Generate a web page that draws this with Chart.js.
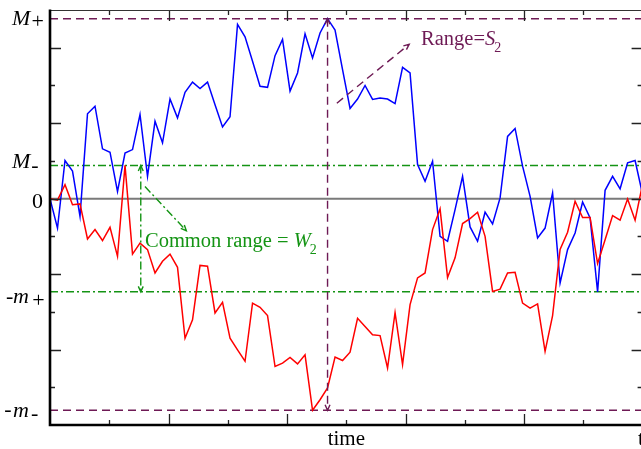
<!DOCTYPE html>
<html>
<head>
<meta charset="utf-8">
<script src="https://cdn.jsdelivr.net/npm/chart.js@4.4.1/dist/chart.umd.min.js"></script>
<style>
html, body { margin: 0; padding: 0; background: #fff; overflow: hidden; }
#wrap { position: relative; width: 650px; height: 449px; }
</style>
</head>
<body>
<div id="wrap"><canvas id="chart"></canvas></div>
<script>
// two random walks, one value per time step
const blueWalk = [
     0.00, -0.78,  1.01,  0.73, -0.47,  2.25,  2.45,  1.32,  1.23,  0.19,
     1.21,  1.30,  2.23,  0.59,  2.05,  1.48,  2.64,  2.14,  2.82,  3.09,
     2.92,  3.09,  2.49,  1.90,  2.17,  4.62,  4.29,  3.64,  2.98,  2.95,
     3.79,  4.22,  2.85,  3.33,  4.37,  3.73,  4.39,  4.77,  4.47,  3.42,
     2.39,  2.64,  3.00,  2.63,  2.67,  2.64,  2.52,  3.48,  3.33,  0.90,
     0.46,  0.99, -1.00, -1.13, -0.29,  0.59, -0.75, -1.13, -0.36, -0.67,
     0.02,  1.65,  1.86,  0.86,  0.06, -1.04, -0.78,  0.15, -2.24, -1.35,
    -0.91, -0.09, -0.51, -2.47,  0.22,  0.59,  0.26,  0.95,  1.01,  0.11
];
const redWalk = [
     0.00, -0.04,  0.37, -0.16, -0.14, -1.07, -0.82, -1.11, -0.76, -1.53,
     0.88, -1.47, -1.18, -1.35, -1.97, -1.66, -1.47, -1.82, -3.70, -3.21,
    -1.77, -1.79, -3.03, -2.75, -3.70, -4.01, -4.31, -2.77, -2.88, -3.10,
    -4.45, -4.36, -4.21, -4.38, -4.14, -5.61, -5.33, -5.02, -4.20, -4.29,
    -4.07, -3.17, -3.39, -3.61, -3.63, -4.49, -3.02, -4.40, -2.81, -2.10,
    -1.97, -0.82, -0.27, -2.09, -1.57, -0.66, -0.53, -0.36, -1.00, -2.46,
    -2.40, -1.97, -1.95, -2.77, -2.90, -2.79, -4.05, -3.10, -1.35, -0.89,
    -0.07, -0.50, -0.50, -1.72, -1.09, -0.45, -0.57, -0.01, -0.57,  0.39
];

// levels: M+, M-, 0, -m+, -m-
const levelValues = [4.77, 0.88, 0, -2.47, -5.61];
const yRange      = [-6, 5];
const xTickCount  = 10;

const PURPLE = '#6e1a55';
const GREEN  = '#149414';
const SERIF  = '"Liberation Serif", "DejaVu Serif", serif';

const xMax   = blueWalk.length - 1;
const peakAt = blueWalk.indexOf(Math.max(...blueWalk));
const [M_PLUS, M_MINUS, ZERO, NEG_M_PLUS, NEG_M_MINUS] = levelValues;

const toPoints = arr => arr.map((v, i) => ({ x: i, y: v }));
const flat     = v => [{ x: 0, y: v }, { x: xMax, y: v }];

function levelLine(v, color, dash, width) {
    return {
        data:        flat(v),
        borderColor: color,
        borderDash:  dash,
        borderWidth: width,
        order:       5,
    };
}

function text(ctx, s, x, y, size, italic, color, align) {
    ctx.font         = (italic ? 'italic ' : '') + size + 'px ' + SERIF;
    ctx.fillStyle    = color;
    ctx.textAlign    = align || 'left';
    ctx.textBaseline = 'alphabetic';
    ctx.fillText(s, x, y);
    return ctx.measureText(s).width;
}

function arrow(ctx, x0, y0, x1, y1, color, dash, both) {
    ctx.save();
    ctx.strokeStyle = color;
    ctx.lineWidth   = 1.4;
    ctx.setLineDash(dash);
    ctx.beginPath();
    ctx.moveTo(x0, y0);
    ctx.lineTo(x1, y1);
    ctx.stroke();
    ctx.setLineDash([]);
    const head = (tx, ty, fx, fy) => {
        const a = Math.atan2(ty - fy, tx - fx);
        const L = 6, w = 0.42;
        ctx.beginPath();
        ctx.moveTo(tx - L * Math.cos(a - w), ty - L * Math.sin(a - w));
        ctx.lineTo(tx, ty);
        ctx.lineTo(tx - L * Math.cos(a + w), ty - L * Math.sin(a + w));
        ctx.stroke();
    };
    head(x1, y1, x0, y0);
    if (both) head(x0, y0, x1, y1);
    ctx.restore();
}

const frame = {
    id: 'frame',
    afterDatasetsDraw(chart) {
        const { ctx, chartArea: a, scales: { x: xs, y: ys } } = chart;
        const X = v => xs.getPixelForValue(v);
        const Y = v => ys.getPixelForValue(v);

        // annotation arrows
        arrow(ctx, X(peakAt), Y(M_PLUS), X(peakAt), Y(NEG_M_MINUS), PURPLE, [8, 5], true);
        arrow(ctx, X(38.24), Y(2.53), X(47.88), Y(4.09), PURPLE, [8, 5], false);
        arrow(ctx, X(12.1), Y(M_MINUS), X(12.1), Y(NEG_M_PLUS), GREEN, [8, 3, 2, 3], true);
        arrow(ctx, X(12.66), Y(0.32), X(18.17), Y(-0.85), GREEN, [8, 3, 2, 3], false);

        // ticks, pointing inwards
        ctx.save();
        ctx.strokeStyle = '#222';
        ctx.lineWidth   = 1.3;
        ctx.beginPath();
        for (let k = 1; k < xTickCount; k++) {
            const px  = Math.round(X(k * xMax / xTickCount)) + 0.5;
            const len = k % 2 === 0 ? 11 : 5;
            ctx.moveTo(px, a.top);    ctx.lineTo(px, a.top + len);
            ctx.moveTo(px, a.bottom); ctx.lineTo(px, a.bottom - len);
        }
        for (let v = yRange[0] + 1; v < yRange[1]; v++) {
            const py  = Math.round(Y(v)) + 0.5;
            const len = v % 2 === 0 ? 11 : 5;
            ctx.moveTo(a.left, py);  ctx.lineTo(a.left + len, py);
            ctx.moveTo(a.right, py); ctx.lineTo(a.right - len, py);
        }
        ctx.stroke();

        // frame
        ctx.strokeStyle = '#333';
        ctx.lineWidth   = 1.2;
        ctx.beginPath();
        ctx.moveTo(a.left, a.top + 0.5); ctx.lineTo(a.right, a.top + 0.5);
        ctx.moveTo(a.right, a.top);      ctx.lineTo(a.right, a.bottom);
        ctx.stroke();
        ctx.strokeStyle = '#000';
        ctx.lineWidth   = 2.6;
        ctx.beginPath();
        ctx.moveTo(a.left, a.top - 0.5); ctx.lineTo(a.left, a.bottom);
        ctx.lineTo(a.right, a.bottom);
        ctx.stroke();
        ctx.restore();

        // level labels on the left
        const S = 22;
        let py = Y(M_PLUS);
        text(ctx, 'M', 12, py + 6.3, S, true, '#000');
        text(ctx, '+', 31.5, py + 9.3, S, false, '#000');
        py = Y(M_MINUS);
        text(ctx, 'M', 12, py + 2.8, S, true, '#000');
        text(ctx, '-', 31.3, py + 7, S, false, '#000');
        py = Y(ZERO);
        text(ctx, '0', 43, py + 9.4, S, false, '#000', 'right');
        py = Y(NEG_M_PLUS);
        text(ctx, '-', 6, py + 11.2, S, false, '#000');
        text(ctx, 'm', 13, py + 11.5, S, true, '#000');
        text(ctx, '+', 32.2, py + 15, S, false, '#000');
        py = Y(NEG_M_MINUS);
        text(ctx, '-', 4.3, py + 5.7, S, false, '#000');
        text(ctx, 'm', 13, py + 6.4, S, true, '#000');
        text(ctx, '-', 31, py + 9.7, S, false, '#000');

        // axis title and end label
        text(ctx, 'time', X(xMax / 2), a.bottom + 20, 21, false, '#000', 'center');
        text(ctx, 't', 638, a.bottom + 20, 21, false, '#000');

        // annotation texts
        let tx = X(12.66), ty = Y(-1.29);
        tx += text(ctx, 'Common range = ', tx, ty, 20.5, false, GREEN);
        tx += text(ctx, 'W', tx, ty, 20.5, true, GREEN);
        text(ctx, '2', tx - 1, ty + 7, 14, false, GREEN);

        tx = X(49.47); ty = Y(4.07);
        tx += text(ctx, 'Range=', tx, ty, 20.5, false, PURPLE);
        tx += text(ctx, 'S', tx, ty, 20.5, true, PURPLE);
        text(ctx, '2', tx - 1, ty + 7, 14, false, PURPLE);
    }
};

new Chart(document.getElementById('chart'), {
    type: 'line',
    data: {
        datasets: [
            { data: toPoints(redWalk),  borderColor: '#ff0000', borderWidth: 1.5, order: 0 },
            { data: toPoints(blueWalk), borderColor: '#0000ff', borderWidth: 1.5, order: 1 },
            levelLine(M_PLUS,      PURPLE,  [8, 5],       1.4),
            levelLine(M_MINUS,     GREEN,   [8, 3, 2, 3], 1.4),
            levelLine(ZERO,        '#7a7a7a', [],         2),
            levelLine(NEG_M_PLUS,  GREEN,   [8, 3, 2, 3], 1.4),
            levelLine(NEG_M_MINUS, PURPLE,  [8, 5],       1.4),
        ]
    },
    options: {
        responsive:          true,
        maintainAspectRatio: false,
        animation:           false,
        layout:   { padding: { left: 50, top: 10, right: 7.4, bottom: 24 } },
        elements: { point: { radius: 0 }, line: { tension: 0, fill: false } },
        plugins:  { legend: { display: false }, tooltip: { enabled: false } },
        scales: {
            x: { type: 'linear', min: 0, max: xMax, display: false },
            y: { min: yRange[0], max: yRange[1], display: false }
        }
    },
    plugins: [frame]
});
</script>
</body>
</html>
